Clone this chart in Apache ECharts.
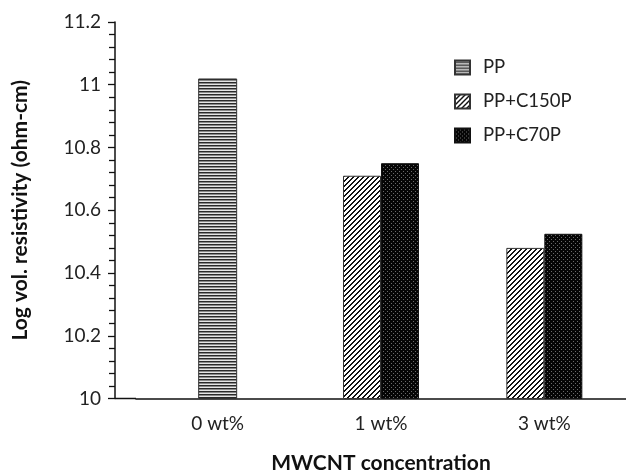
<!DOCTYPE html>
<html>
<head>
<meta charset="utf-8">
<script src="https://cdn.jsdelivr.net/npm/echarts@6/dist/echarts.min.js"></script>
<style>
  html, body { margin: 0; padding: 0; background: #fff; }
  #chart { width: 626px; height: 474px; }
</style>
</head>
<body>
<div id="chart"></div>
<script>
// MWCNT loading levels and log volume resistivity per formulation
var categories = ['0 wt%', '1 wt%', '3 wt%'];
var ppValues = [11.02, null, null];
var c150pValues = [null, 10.71, 10.48];
var c70pValues = [null, 10.75, 10.525];
var yTicks = { min: 10, max: 11.2, interval: 0.2 };

// Fill patterns drawn on small canvases
function makePattern(w, h, draw) {
  var c = document.createElement('canvas');
  c.width = w; c.height = h;
  var ctx = c.getContext('2d');
  draw(ctx, w, h);
  return { image: c, repeat: 'repeat' };
}
var stripeFill = makePattern(4, 3, function (ctx, w, h) {
  ctx.fillStyle = '#e6e6e6'; ctx.fillRect(0, 0, w, h);
  ctx.fillStyle = '#2a2a2a'; ctx.fillRect(0, 1, w, 1);
  ctx.fillStyle = '#8a8a8a'; ctx.fillRect(0, 2, w, 1);
});
var hatchFill = makePattern(5, 5, function (ctx, w, h) {
  ctx.fillStyle = '#ffffff'; ctx.fillRect(0, 0, w, h);
  ctx.fillStyle = '#111111';
  for (var i = 0; i < w; i++) {
    var y = (h - 1 - i + h) % h;
    ctx.fillRect(i, y, 1, 1);
    ctx.fillRect(i, (y + 1) % h, 1, 1);
  }
});
var dotFill = makePattern(4, 4, function (ctx, w, h) {
  ctx.fillStyle = '#050505'; ctx.fillRect(0, 0, w, h);
  ctx.fillStyle = '#6a6a6a';
  ctx.fillRect(1, 1, 1, 1);
  ctx.fillRect(3, 3, 1, 1);
});

var FONT = 'Lato, "Open Sans", sans-serif';
var GRID_LEFT = 136, AXIS_SHIFT = 21;

var chart = echarts.init(document.getElementById('chart'), null, { renderer: 'canvas' });

var baseX = {
  type: 'category',
  data: categories,
  boundaryGap: true,
  axisTick: { show: false },
};

chart.setOption({
  animation: false,
  backgroundColor: '#ffffff',
  grid: { left: GRID_LEFT, right: 0, top: 22, bottom: 75.5, containLabel: false, outerBoundsMode: 'none' },
  legend: {
    orient: 'vertical',
    left: 449, top: 53,
    icon: 'rect',
    itemWidth: 15, itemHeight: 14, itemGap: 15,
    textStyle: { fontFamily: FONT, fontSize: 18.5, color: '#222', padding: [0, 0, 0, 8] },
    data: ['PP', 'PP+C150P', 'PP+C70P']
  },
  xAxis: [
    Object.assign({}, baseX, {
      name: 'MWCNT concentration',
      nameLocation: 'middle',
      nameGap: 54,
      nameTextStyle: { fontFamily: FONT, fontSize: 21, fontWeight: 'bold', color: '#111' },
      axisLine: { lineStyle: { color: '#111', width: 1.5 } },
      axisLabel: { fontFamily: FONT, fontSize: 19, color: '#222', margin: 16 }
    }),
    Object.assign({}, baseX, {
      show: false,
      position: 'bottom'
    })
  ],
  yAxis: [
    {
      type: 'value',
      min: yTicks.min, max: yTicks.max, interval: yTicks.interval,
      offset: AXIS_SHIFT,
      name: 'Log vol. resistivity (ohm-cm)',
      nameLocation: 'middle',
      nameGap: 84,
      nameTextStyle: { fontFamily: FONT, fontSize: 21, fontWeight: 'bold', color: '#111' },
      axisLine: { show: true, lineStyle: { color: '#111', width: 1.5 } },
      axisTick: { show: true, inside: false, length: 7, lineStyle: { color: '#111', width: 1.3 } },
      minorTick: { show: true, splitNumber: 5, length: 6, lineStyle: { color: '#111', width: 1.3 } },
      axisLabel: { fontFamily: FONT, fontSize: 19, color: '#222', margin: 14 },
      splitLine: { show: false }
    },
    {
      type: 'value',
      min: yTicks.min, max: yTicks.max, interval: yTicks.interval,
      offset: AXIS_SHIFT,
      axisLine: { show: false },
      axisTick: { show: true, inside: true, length: 7, lineStyle: { color: '#111', width: 1.3 } },
      axisLabel: { show: false },
      splitLine: { show: false }
    }
  ],
  series: [
    {
      name: 'PP', type: 'bar', xAxisIndex: 1, yAxisIndex: 0,
      data: ppValues, barWidth: 39,
      itemStyle: { color: stripeFill, borderColor: '#333', borderWidth: 1 }
    },
    {
      name: 'PP+C150P', type: 'bar', xAxisIndex: 0, yAxisIndex: 0,
      data: c150pValues, barWidth: 38, barGap: '0%',
      itemStyle: { color: hatchFill, borderColor: '#333', borderWidth: 1 }
    },
    {
      name: 'PP+C70P', type: 'bar', xAxisIndex: 0, yAxisIndex: 0,
      data: c70pValues, barWidth: 38, barGap: '0%',
      itemStyle: { color: dotFill, borderColor: '#111', borderWidth: 1 }
    }
  ]
});

// Carry the baseline over to the shifted value axis
var baseY = chart.convertToPixel({ yAxisIndex: 0 }, yTicks.min);
chart.setOption({
  graphic: [{
    type: 'line',
    shape: { x1: GRID_LEFT - AXIS_SHIFT, y1: baseY, x2: GRID_LEFT, y2: baseY },
    style: { stroke: '#111', lineWidth: 1.5 },
    z: 10
  }]
});
</script>
</body>
</html>
